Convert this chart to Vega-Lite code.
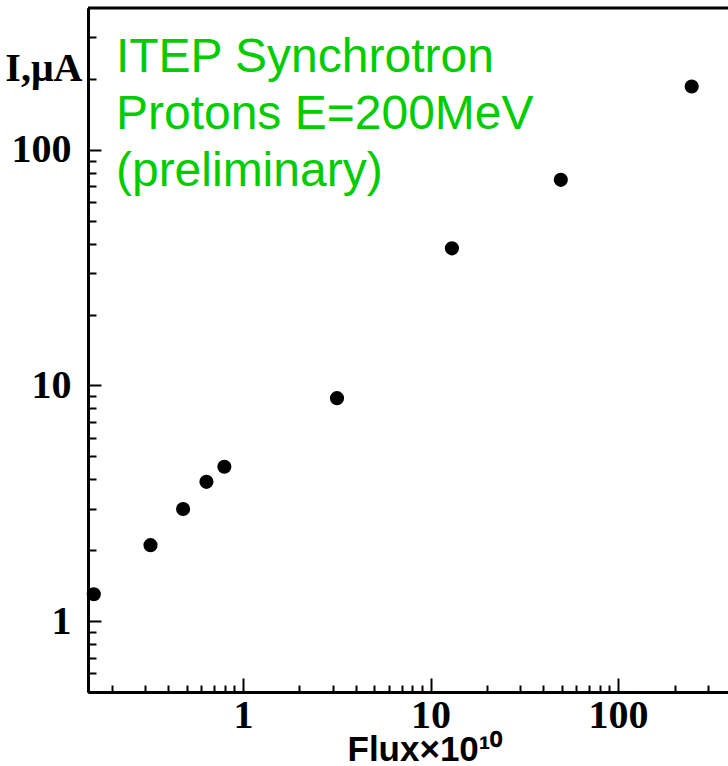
{
  "$schema": "https://vega.github.io/schema/vega-lite/v6.json",
  "width": 640,
  "height": 684,
  "autosize": {"type": "none"},
  "padding": {"left": 88, "top": 8, "right": 0, "bottom": 74},
  "background": "white",
  "config": {
    "view": {"stroke": null},
    "axis": {
      "grid": false,
      "domainColor": "black",
      "domainWidth": 3,
      "tickColor": "black",
      "tickWidth": 2,
      "labelFont": "Liberation Serif",
      "labelFontWeight": "bold",
      "labelFontSize": 40,
      "labelColor": "black",
      "labelOverlap": false,
      "labelFlush": false
    }
  },
  "layer": [
    {
      "data": {
        "values": [
          {"flux": 0.160, "current": 1.30},
          {"flux": 0.321, "current": 2.10},
          {"flux": 0.479, "current": 2.99},
          {"flux": 0.638, "current": 3.90},
          {"flux": 0.795, "current": 4.52},
          {"flux": 3.17, "current": 8.83},
          {"flux": 13.0, "current": 38.2},
          {"flux": 49.5, "current": 74.6},
          {"flux": 247, "current": 185.7}
        ]
      },
      "mark": {"type": "point", "filled": true, "shape": "circle", "size": 200, "color": "black", "opacity": 1},
      "encoding": {
        "x": {
          "field": "flux",
          "type": "quantitative",
          "scale": {"type": "log", "domain": [0.149, 385.7], "nice": false},
          "axis": {
            "orient": "bottom",
            "values": [1, 10, 100],
            "tickSize": -14,
            "labelExpr": "datum.value == 1 ? '1' : datum.value == 10 ? '10' : '100'",
            "labelBaseline": "alphabetic",
            "labelPadding": 49,
            "title": "Flux×10¹⁰",
            "titleFont": "Liberation Sans",
            "titleFontWeight": "bold",
            "titleFontSize": 35,
            "titleColor": "black",
            "titleAlign": "left",
            "titleBaseline": "alphabetic",
            "titleAnchor": "start",
            "titleX": 259,
            "titleY": 68
          }
        },
        "y": {
          "field": "current",
          "type": "quantitative",
          "scale": {"type": "log", "domain": [0.5, 400], "nice": false},
          "axis": {
            "orient": "left",
            "values": [1, 10, 100],
            "tickSize": -13,
            "labelExpr": "datum.value == 1 ? '1' : datum.value == 10 ? '10' : '100'",
            "labelBaseline": "middle",
            "labelPadding": 30,
            "title": "I,μA",
            "titleFont": "Liberation Serif",
            "titleFontWeight": "bold",
            "titleFontSize": 40,
            "titleColor": "black",
            "titleAngle": 0,
            "titleAlign": "right",
            "titleBaseline": "alphabetic",
            "titleX": -6,
            "titleY": 72
          }
        }
      }
    },
    {
      "data": {"values": [{"note": "annotation"}]},
      "mark": {
        "type": "text",
        "text": ["ITEP Synchrotron", "Protons E=200MeV", "(preliminary)"],
        "font": "Liberation Sans",
        "fontSize": 48,
        "lineHeight": 57,
        "color": "#00cc00",
        "align": "left",
        "baseline": "alphabetic"
      },
      "encoding": {
        "x": {
          "datum": 0.210,
          "type": "quantitative",
          "scale": {"type": "log", "domain": [0.149, 385.7], "nice": false},
          "axis": {
            "orient": "bottom",
            "values": [0.2,0.3,0.4,0.5,0.6,0.7,0.8,0.9,2,3,4,5,6,7,8,9,20,30,40,50,60,70,80,90,200,300],
            "tickSize": -7,
            "labels": false,
            "title": null
          }
        },
        "y": {
          "datum": 214,
          "type": "quantitative",
          "scale": {"type": "log", "domain": [0.5, 400], "nice": false},
          "axis": {
            "orient": "left",
            "values": [0.6,0.7,0.8,0.9,2,3,4,5,6,7,8,9,20,30,40,50,60,70,80,90,200,300],
            "tickSize": -8,
            "labels": false,
            "title": null
          }
        }
      }
    },
    {
      "data": {"values": [{"edge": "top"}]},
      "mark": {"type": "rule", "color": "black", "strokeWidth": 3},
      "encoding": {
        "y": {
          "datum": 400,
          "type": "quantitative",
          "scale": {"type": "log", "domain": [0.5, 400], "nice": false},
          "axis": null
        }
      }
    }
  ],
  "resolve": {"axis": {"x": "independent", "y": "independent"}}
}
